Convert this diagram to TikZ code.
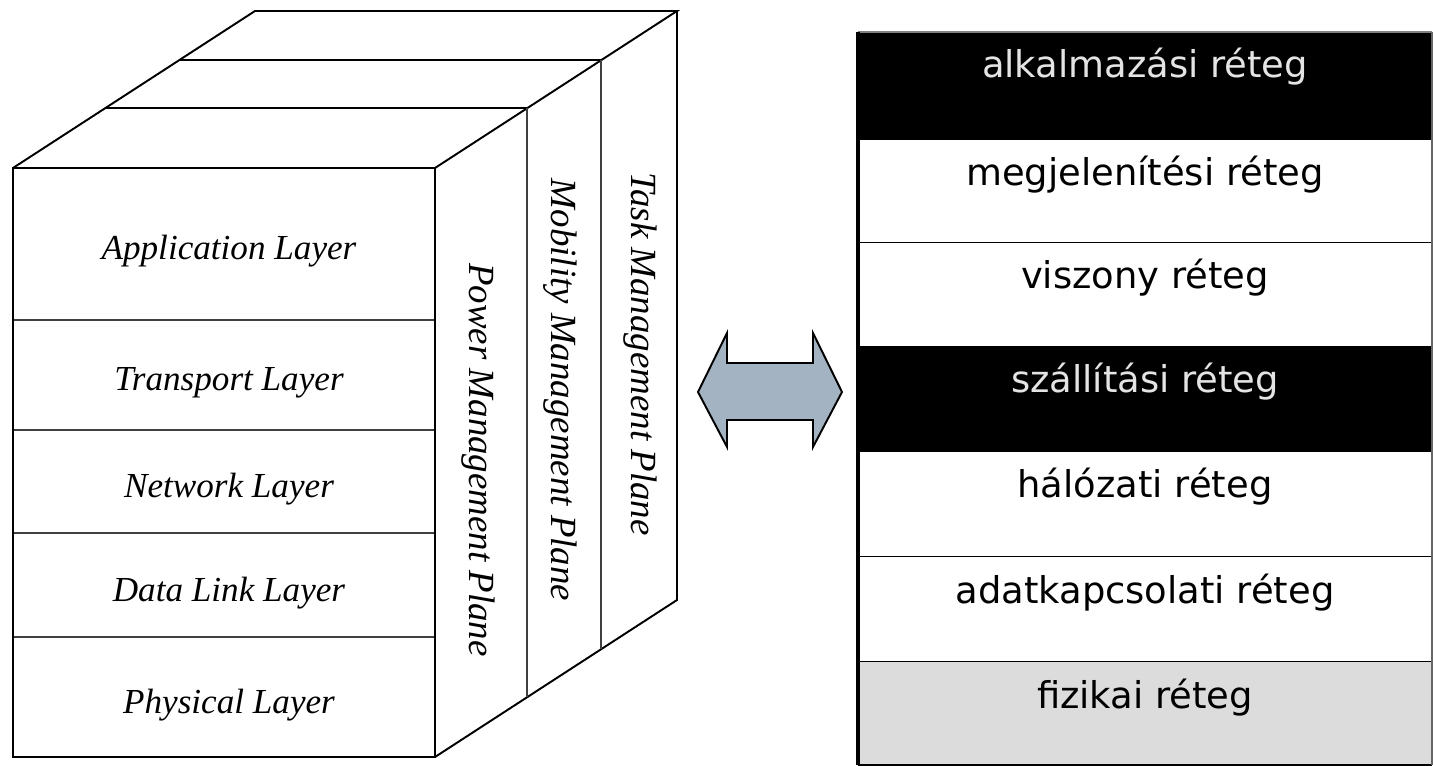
\documentclass[tikz,border=0pt]{standalone}
\usepackage{fontspec}
\setmainfont{Liberation Serif}
\newfontfamily\husans{DejaVu Sans}
\usepackage{xcolor}
\definecolor{arrowfill}{RGB}{163,179,194}
\definecolor{lightrow}{RGB}{220,220,220}
\definecolor{paletext}{RGB}{228,228,228}
\tikzset{
  edge/.style={line width=1.1pt, line join=miter},
  divider/.style={line width=0.8pt, black!75},
  layerlbl/.style={anchor=base, font=\fontsize{20}{24}\selectfont\itshape, inner sep=0pt},
  planelbl/.style={rotate=-90, font=\fontsize{21}{25}\selectfont\itshape, inner sep=0pt},
  osirow/.style={anchor=base, font=\husans\fontsize{21}{25}\selectfont, inner sep=0pt}
}

\begin{document}
\begin{tikzpicture}[x=0.02cm, y=-0.02cm]
  \useasboundingbox (0,0) rectangle (1433,766);

  % sensor node stack (3D block)
  \coordinate (ftl) at (13,168);
  \coordinate (ftr) at (435,168);
  \coordinate (fbr) at (435,757);
  \coordinate (fbl) at (13,757);
  \coordinate (btl) at (255,11);
  \coordinate (btr) at (677,11);
  \coordinate (bbr) at (677,600);

  \foreach \i/\t/\b/\lab in {1/168/320/Application Layer, 2/320/430/Transport Layer,
      3/430/533/Network Layer, 4/533/637/Data Link Layer, 5/637/757/Physical Layer}
  {
    \draw[divider] (13,\b) -- (435,\b);
    \node[layerlbl] (layer\i) at (229,{(\t+\b)/2+16}) {\lab};
  }

  \draw[edge] (ftl) rectangle (fbr);
  \draw[edge] (ftl) -- (btl) -- (btr) -- (ftr);
  \draw[edge] (btr) -- (bbr) -- (fbr);

  % management planes
  \draw[edge] (105,108) -- (527,108);
  \draw[edge] (180,60) -- (601,60);
  \draw[divider] (527,108) -- (527,697);
  \draw[divider] (601,60) -- (601,649);

  \node[planelbl] (power) at (478,460) {Power Management Plane};
  \node[planelbl] (mobility) at (560,390) {Mobility Management Plane};
  \node[planelbl] (task) at (640,354) {Task Management Plane};

  % double arrow
  \draw[line width=1.1pt, fill=arrowfill, line join=miter]
    (698,392) -- (727,333) -- (727,363) -- (813,363) -- (813,333) -- (842,392)
    -- (813,447) -- (813,420) -- (727,420) -- (727,447) -- cycle;

  % OSI stack
  \foreach \i/\t/\b/\fc/\tc/\lab in {1/32/140/black/paletext/alkalmazási réteg,
      2/140/243/white/black/megjelenítési réteg, 3/243/347/white/black/viszony réteg,
      4/347/452/black/paletext/szállítási réteg, 5/452/557/white/black/hálózati réteg,
      6/557/662/white/black/adatkapcsolati réteg, 7/662/765/lightrow/black/fizikai réteg}
  {
    \fill[\fc] (858,\t) rectangle (1432,\b);
    \draw[line width=1pt] (858,\b) -- (1432,\b);
    \node[osirow, text=\tc] (osi\i) at (1145,\t+46) {\lab};
  }
  \draw[line width=0.6pt, black!50] (858,32) -- (1432,32);
  \draw[line width=0.6pt, black!60] (1432,32) -- (1432,765);
  \draw[line width=2.8pt] (858,32) -- (858,765);
\end{tikzpicture}
\end{document}
